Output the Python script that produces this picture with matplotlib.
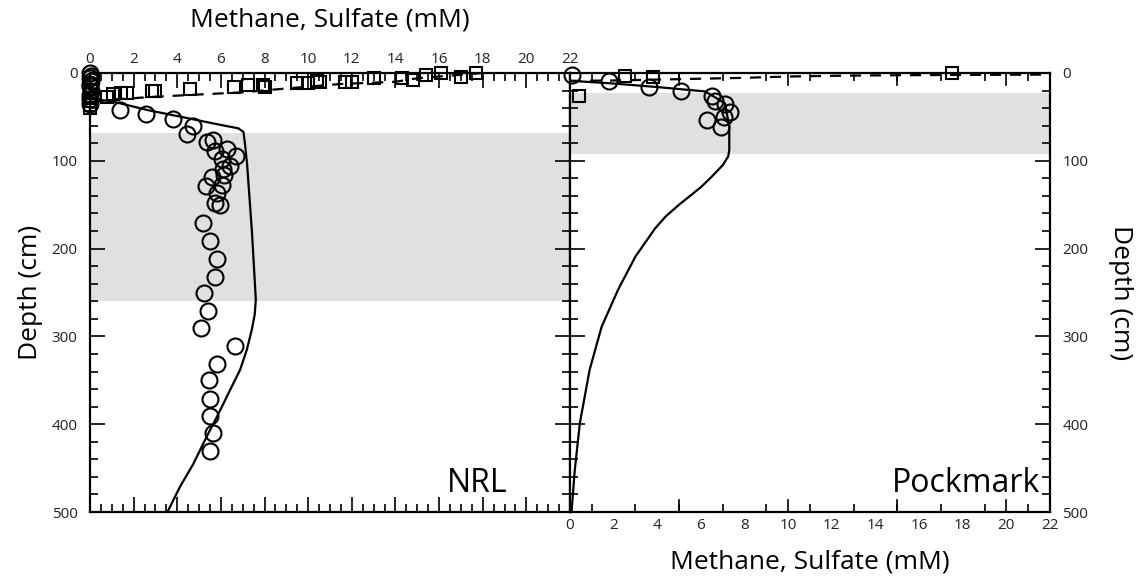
import matplotlib

matplotlib.use("Agg")
import matplotlib.pyplot as plt
from matplotlib.ticker import MultipleLocator

# NRL site: methane (circles), sulfate (squares), model curves
nrl_ch4_x = [0.0, 0.05, 0.0, 0.05, 0.0, 0.0, 0.05, 0.0, 0.0, 0.0,
             1.38, 2.57, 3.79, 4.71, 4.46, 5.66, 5.35, 6.27, 5.73, 6.70,
             6.04, 6.42, 6.09, 6.15, 5.58, 5.32, 6.04, 5.81, 5.73, 5.96,
             5.17, 5.50, 5.84, 5.73, 5.23, 5.43, 5.09, 6.65, 5.81, 5.46,
             5.50, 5.50, 5.63, 5.50]
nrl_ch4_depth = [0, 3, 6, 9, 12, 15, 20, 25, 30, 35,
                 42, 47, 52, 60, 69, 76, 79, 86, 89, 95,
                 98, 106, 109, 116, 119, 129, 128, 137, 148, 150,
                 171, 191, 212, 232, 251, 271, 291, 311, 331, 350,
                 371, 391, 410, 431]
nrl_so4_x = [17.7, 16.1, 15.4, 17.0, 14.3, 14.8, 13.0, 12.0, 11.7, 10.55,
             10.4, 10.0, 9.5, 8.0, 7.95, 7.26, 6.6, 4.6, 3.0, 2.83,
             1.68, 1.4, 1.07, 0.77, 0.1, 0.0, 0.0, 0.0]
nrl_so4_depth = [0.4, 0.4, 2.3, 4, 6, 7.5, 6, 10, 10, 10,
                 8.8, 11.5, 11, 15.5, 13.7, 13.7, 15.6, 18.6, 20, 21,
                 23, 23, 24.3, 27, 28, 32, 36, 40]
nrl_ch4_model_x = [0.0, 1.07, 2.6, 4.13, 5.96, 6.8, 7.03, 7.1, 7.2, 7.42,
                   7.6, 7.55, 7.42, 7.19, 6.88, 6.42, 5.89, 5.35, 4.74,
                   4.13, 3.55]
nrl_ch4_model_depth = [29, 32.6, 42, 49.7, 59, 63, 67, 80, 104, 180,
                       258, 275, 292, 315, 338, 361, 388, 414, 445,
                       471, 500]
nrl_so4_model_x = [18.0, 17.0, 15.0, 14.0, 11.5, 9.3, 7.0, 5.0, 3.0, 1.5, 0.0]
nrl_so4_model_depth = [0, 2, 6, 10, 12.5, 17, 22, 24.5, 27, 29.5, 33]
nrl_smtz = (68, 260)

# Pockmark site
pm_ch4_x = [0.1, 1.8, 3.6, 5.1, 6.5, 6.65, 7.1, 7.35, 7.05, 6.3, 6.9]
pm_ch4_depth = [2.3, 8.7, 15.6, 21, 26, 31.5, 35, 44, 50, 53.5, 62]
pm_so4_x = [17.5, 2.5, 3.8, 0.4]
pm_so4_depth = [0.4, 3.4, 5, 26]
pm_ch4_model_x = [0.0, 2.0, 4.0, 6.2, 7.1, 7.3, 7.3, 7.25, 7.0, 6.5, 6.0,
                  5.5, 5.0, 4.4, 3.9, 3.0, 2.2, 1.45, 0.9, 0.45, 0.22, 0.07]
pm_ch4_model_depth = [8.8, 12, 16, 21, 34.5, 61, 88, 95, 105, 118, 130,
                      140, 150, 163, 177, 209, 247, 289, 338, 399, 452, 500]
pm_so4_model_x = [0.0, 2.0, 4.0, 6.0, 8.0, 10.0, 12.0, 14.0, 17.0, 20.0, 22.0]
pm_so4_model_depth = [9, 8.5, 7.5, 6.5, 5.5, 4, 3.2, 2.7, 2.3, 2.0, 1.8]
pm_smtz = (23, 92)

FONT = "Open Sans"
plt.rcParams["font.family"] = [FONT, "DejaVu Sans"]

fig = plt.figure(figsize=(11.38, 5.79), dpi=100)
left_ax = fig.add_axes([90 / 1138, 1 - 512 / 579, 480 / 1138, 439 / 579])
right_ax = fig.add_axes([570 / 1138, 1 - 512 / 579, 480 / 1138, 439 / 579])

panels = [
    (left_ax, nrl_ch4_x, nrl_ch4_depth, nrl_so4_x, nrl_so4_depth,
     nrl_ch4_model_x, nrl_ch4_model_depth, nrl_so4_model_x,
     nrl_so4_model_depth, nrl_smtz, "NRL", 0.87),
    (right_ax, pm_ch4_x, pm_ch4_depth, pm_so4_x, pm_so4_depth,
     pm_ch4_model_x, pm_ch4_model_depth, pm_so4_model_x,
     pm_so4_model_depth, pm_smtz, "Pockmark", 0.98),
]

for (ax, cx, cd, sx, sd, mx, md, smx, smd, smtz, name, name_x) in panels:
    ax.axhspan(smtz[0], smtz[1], color="#e0e0e0", lw=0, zorder=0)
    ax.plot(mx, md, color="black", lw=1.6, zorder=2)
    ax.plot(smx, smd, color="black", lw=1.6, ls=(0, (5, 4)), zorder=2)
    ax.plot(cx, cd, ls="none", marker="o", ms=11.5, mfc="none",
            mec="black", mew=1.5, clip_on=False, zorder=3)
    ax.plot(sx, sd, ls="none", marker="s", ms=8.5, mfc="none",
            mec="black", mew=1.5, clip_on=False, zorder=3)
    ax.set_xlim(0, 22)
    ax.set_ylim(500, 0)
    ax.set_xticks(range(0, 23, 2))
    ax.yaxis.set_major_locator(MultipleLocator(100))
    ax.yaxis.set_minor_locator(MultipleLocator(20))
    for spine in ax.spines.values():
        spine.set_linewidth(1.6)
        spine.set_zorder(4)
    ax.tick_params(which="both", direction="in", top=True, bottom=True,
                   left=True, right=True, labelsize=11, width=1.2,
                   labelcolor="#222222")
    ax.tick_params(axis="x", pad=4)
    ax.tick_params(axis="y", pad=9)
    ax.tick_params(which="major", length=11)
    ax.tick_params(which="minor", length=6)
    ax.text(name_x, 0.045, name, transform=ax.transAxes, ha="right",
            va="baseline", fontsize=23)

left_ax.xaxis.set_minor_locator(MultipleLocator(0.5))
left_ax.tick_params(labeltop=True, labelbottom=False, labelleft=True,
                    labelright=False)
left_ax.xaxis.set_label_position("top")
left_ax.set_xlabel("Methane, Sulfate (mM)", fontsize=19, labelpad=19)
left_ax.set_ylabel("Depth (cm)", fontsize=19, labelpad=6)

right_ax.xaxis.set_minor_locator(MultipleLocator(1))
right_ax.tick_params(labeltop=False, labelbottom=True, labelleft=False,
                     labelright=True)
right_ax.tick_params(axis="x", which="major", length=0)
for value in range(5, 22, 5):
    right_ax.plot([value, value], [500, 500 - 12 / 0.878], color="black",
                  lw=1.2, zorder=4, clip_on=False)
    right_ax.plot([value, value], [0, 12 / 0.878], color="black",
                  lw=1.2, zorder=4, clip_on=False)
right_ax.yaxis.set_label_position("right")
right_ax.set_xlabel("Methane, Sulfate (mM)", fontsize=19, labelpad=12)
right_ax.set_ylabel("Depth (cm)", fontsize=19, rotation=270, labelpad=32)

fig.savefig("out.png", dpi=100)
